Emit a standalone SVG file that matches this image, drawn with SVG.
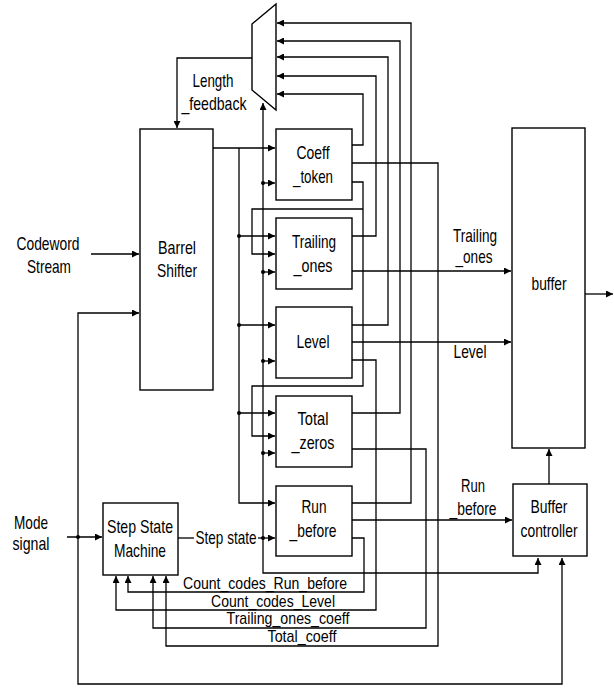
<svg xmlns="http://www.w3.org/2000/svg" width="614" height="688" viewBox="0 0 614 688">
<defs>
<style>
.ln{fill:none;stroke:#000;stroke-width:1.3}
.bx{fill:#fff;stroke:#000;stroke-width:1.4}
text{font-family:"Liberation Sans",Arial,sans-serif;font-size:19px;fill:#000;text-anchor:middle}
.sm{font-size:17px}
</style>
<marker id="ah" viewBox="0 0 10 10" refX="10" refY="5" markerWidth="8" markerHeight="7" orient="auto" markerUnits="userSpaceOnUse"><path d="M0,0 L10,5 L0,10 z" fill="#000"/></marker>
</defs>
<rect width="614" height="688" fill="#fff"/>

<g id="connectors">
<path class="ln" d="M91,254 H139" marker-end="url(#ah)"/>
<path class="ln" d="M67,537 H102" marker-end="url(#ah)"/>
<path class="ln" d="M78,537 V313 H139" marker-end="url(#ah)"/>
<path class="ln" d="M78,537 V684 H562 V558" marker-end="url(#ah)"/>
<path class="ln" d="M252,58 H177 V128" marker-end="url(#ah)"/>
<path class="ln" d="M213,148 H275" marker-end="url(#ah)"/>
<path class="ln" d="M239,148 V503 H275" marker-end="url(#ah)"/>
<path class="ln" d="M239,236 H275" marker-end="url(#ah)"/>
<path class="ln" d="M239,325 H275" marker-end="url(#ah)"/>
<path class="ln" d="M239,413 H275" marker-end="url(#ah)"/>
<path class="ln" d="M178,538 H194"/>
<path class="ln" d="M258,538 H275" marker-end="url(#ah)"/>
<path class="ln" d="M263,538 V103" marker-end="url(#ah)"/>
<path class="ln" d="M263,538 V573 H538 V558" marker-end="url(#ah)"/>
<path class="ln" d="M263,183 H275" marker-end="url(#ah)"/>
<path class="ln" d="M263,272 H275" marker-end="url(#ah)"/>
<path class="ln" d="M263,361 H275" marker-end="url(#ah)"/>
<path class="ln" d="M263,453 H275" marker-end="url(#ah)"/>
<path class="ln" d="M352,145 H363 V94 H277" marker-end="url(#ah)"/>
<path class="ln" d="M352,163 H438 V646 H166 V576" marker-end="url(#ah)"/>
<path class="ln" d="M352,182 H363 V386 H252 V436 H275" marker-end="url(#ah)"/>
<path class="ln" d="M363,209 H252 V254 H275" marker-end="url(#ah)"/>
<path class="ln" d="M352,236 H376 V76 H277" marker-end="url(#ah)"/>
<path class="ln" d="M352,271 H511" marker-end="url(#ah)"/>
<path class="ln" d="M352,325 H388 V57 H277" marker-end="url(#ah)"/>
<path class="ln" d="M352,342 H511" marker-end="url(#ah)"/>
<path class="ln" d="M352,360 H376 V610 H116 V576" marker-end="url(#ah)"/>
<path class="ln" d="M352,413 H400 V41 H277" marker-end="url(#ah)"/>
<path class="ln" d="M352,449 H426 V628 H153 V576" marker-end="url(#ah)"/>
<path class="ln" d="M352,503 H411 V23 H277" marker-end="url(#ah)"/>
<path class="ln" d="M352,520 H512" marker-end="url(#ah)"/>
<path class="ln" d="M352,538 H364 V592 H128 V576" marker-end="url(#ah)"/>
<path class="ln" d="M549,484 V449" marker-end="url(#ah)"/>
<path class="ln" d="M585,294 H613" marker-end="url(#ah)"/>
<g fill="#000">
<circle cx="78" cy="537" r="2"/>
<circle cx="239" cy="236" r="2"/>
<circle cx="239" cy="325" r="2"/>
<circle cx="239" cy="413" r="2"/>
<circle cx="263" cy="183" r="2"/>
<circle cx="263" cy="272" r="2"/>
<circle cx="263" cy="361" r="2"/>
<circle cx="263" cy="453" r="2"/>
<circle cx="263" cy="538" r="2"/>
</g>
<text x="213" y="87" textLength="41" lengthAdjust="spacingAndGlyphs">Length</text>
<text x="214" y="110" textLength="65" lengthAdjust="spacingAndGlyphs">_feedback</text>
<text x="48" y="250" textLength="63" lengthAdjust="spacingAndGlyphs">Codeword</text>
<text x="49" y="273" textLength="44" lengthAdjust="spacingAndGlyphs">Stream</text>
<text x="31" y="529" textLength="34" lengthAdjust="spacingAndGlyphs">Mode</text>
<text x="31" y="550" textLength="37" lengthAdjust="spacingAndGlyphs">signal</text>
<text x="226" y="544" textLength="61" lengthAdjust="spacingAndGlyphs">Step state</text>
<text x="475" y="242" textLength="44" lengthAdjust="spacingAndGlyphs">Trailing</text>
<text x="474" y="263" textLength="37" lengthAdjust="spacingAndGlyphs">_ones</text>
<text x="470" y="358" textLength="33" lengthAdjust="spacingAndGlyphs">Level</text>
<text x="473" y="492" textLength="24" lengthAdjust="spacingAndGlyphs">Run</text>
<text x="473" y="515" textLength="47" lengthAdjust="spacingAndGlyphs">_before</text>
<text class="sm" x="265" y="589" textLength="164" lengthAdjust="spacingAndGlyphs">Count_codes_Run_before</text>
<text class="sm" x="273" y="607" textLength="124" lengthAdjust="spacingAndGlyphs">Count_codes_Level</text>
<text class="sm" x="288" y="624" textLength="123" lengthAdjust="spacingAndGlyphs">Trailing_ones_coeff</text>
<text class="sm" x="302" y="642" textLength="69" lengthAdjust="spacingAndGlyphs">Total_coeff</text>
</g>

<g id="mux"><polygon class="bx" points="252,24 276,4 276,110 252,90"/></g>
<g id="barrel_shifter"><rect class="bx" x="140" y="129" width="73" height="261"/>
<text x="177" y="254" textLength="38" lengthAdjust="spacingAndGlyphs">Barrel</text>
<text x="177" y="277" textLength="40" lengthAdjust="spacingAndGlyphs">Shifter</text></g>
<g id="coeff_token"><rect class="bx" x="276" y="129" width="76" height="71"/>
<text x="313" y="159" textLength="33" lengthAdjust="spacingAndGlyphs">Coeff</text>
<text x="313" y="183" textLength="40" lengthAdjust="spacingAndGlyphs">_token</text></g>
<g id="trailing_ones"><rect class="bx" x="276" y="218" width="76" height="71"/>
<text x="314" y="248" textLength="44" lengthAdjust="spacingAndGlyphs">Trailing</text>
<text x="313" y="272" textLength="39" lengthAdjust="spacingAndGlyphs">_ones</text></g>
<g id="level"><rect class="bx" x="276" y="307" width="76" height="71"/>
<text x="313" y="348" textLength="33" lengthAdjust="spacingAndGlyphs">Level</text></g>
<g id="total_zeros"><rect class="bx" x="276" y="396" width="76" height="71"/>
<text x="313" y="425" textLength="31" lengthAdjust="spacingAndGlyphs">Total</text>
<text x="313" y="449" textLength="43" lengthAdjust="spacingAndGlyphs">_zeros</text></g>
<g id="run_before"><rect class="bx" x="276" y="486" width="76" height="70"/>
<text x="314" y="513" textLength="25" lengthAdjust="spacingAndGlyphs">Run</text>
<text x="313" y="537" textLength="47" lengthAdjust="spacingAndGlyphs">_before</text></g>
<g id="buffer"><rect class="bx" x="512" y="128" width="73" height="320"/>
<text x="549" y="290" textLength="35" lengthAdjust="spacingAndGlyphs">buffer</text></g>
<g id="buffer_controller"><rect class="bx" x="513" y="484" width="74" height="72"/>
<text x="549" y="513" textLength="37" lengthAdjust="spacingAndGlyphs">Buffer</text>
<text x="549" y="537" textLength="57" lengthAdjust="spacingAndGlyphs">controller</text></g>
<g id="step_state_machine"><rect class="bx" x="103" y="503" width="75" height="72"/>
<text x="140" y="533" textLength="66" lengthAdjust="spacingAndGlyphs">Step State</text>
<text x="140" y="557" textLength="52" lengthAdjust="spacingAndGlyphs">Machine</text></g>
</svg>
